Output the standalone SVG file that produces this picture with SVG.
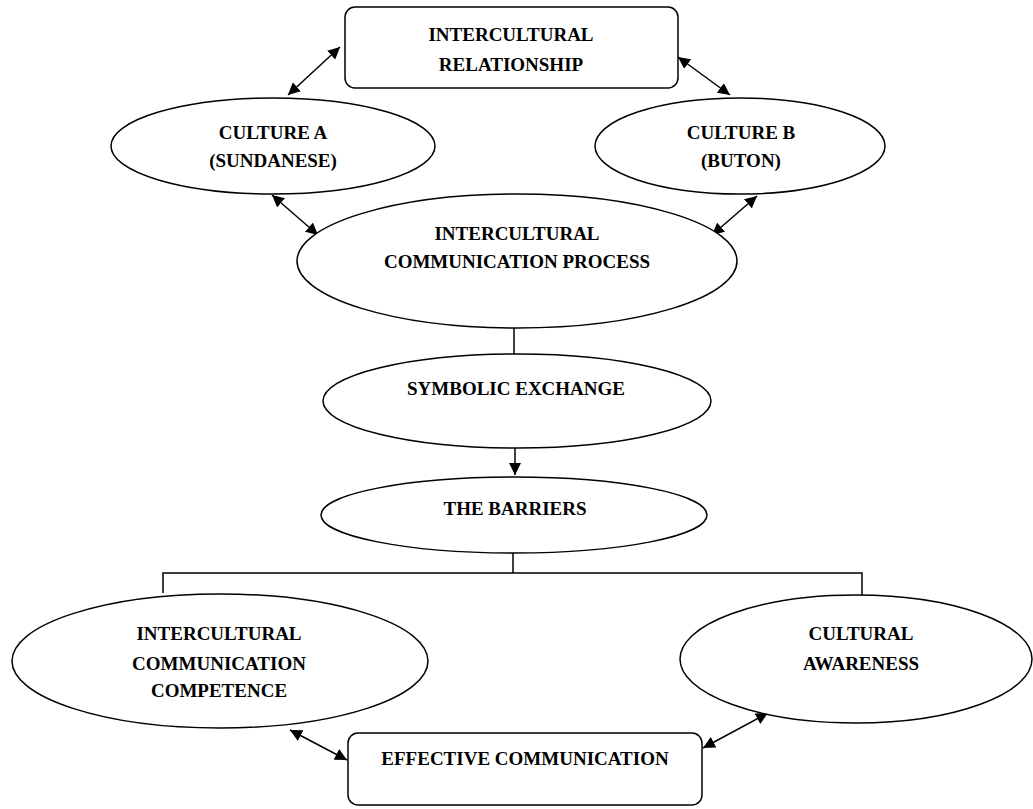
<svg xmlns="http://www.w3.org/2000/svg" width="1033" height="809" viewBox="0 0 1033 809">
<defs>
<style>
.n{fill:#fff;stroke:#000;stroke-width:1.5}
.t{font-family:"Liberation Serif","Times New Roman",serif;font-weight:bold;font-size:19px;text-anchor:middle;fill:#000}
.c{fill:none;stroke:#000;stroke-width:1.5}
</style>
<marker id="ah" viewBox="0 0 10 10" refX="10" refY="5" markerWidth="12" markerHeight="12" markerUnits="userSpaceOnUse" orient="auto-start-reverse">
<path d="M0,0 L10,5 L0,10 z" fill="#000"/>
</marker>
</defs>
<rect width="1033" height="809" fill="#fff"/>
<g id="connectors">
<line class="c" x1="340" y1="47" x2="288" y2="95" marker-start="url(#ah)" marker-end="url(#ah)"/>
<line class="c" x1="678" y1="57" x2="730" y2="95" marker-start="url(#ah)" marker-end="url(#ah)"/>
<line class="c" x1="272" y1="195" x2="318" y2="235" marker-start="url(#ah)" marker-end="url(#ah)"/>
<line class="c" x1="757" y1="196" x2="712" y2="235" marker-start="url(#ah)" marker-end="url(#ah)"/>
<line class="c" x1="514" y1="328" x2="514" y2="355"/>
<line class="c" x1="515" y1="448" x2="515" y2="475" marker-end="url(#ah)"/>
<polyline class="c" points="163,593 163,573 862,573 862,595"/>
<line class="c" x1="513" y1="547" x2="513" y2="573"/>
<line class="c" x1="290" y1="730" x2="347" y2="760" marker-start="url(#ah)" marker-end="url(#ah)"/>
<line class="c" x1="703" y1="748" x2="768" y2="713" marker-start="url(#ah)" marker-end="url(#ah)"/>
</g>
<g id="relationship">
<rect class="n" x="345" y="7" width="333" height="81" rx="10"/>
<text class="t" x="511" y="41">INTERCULTURAL</text>
<text class="t" x="511" y="71">RELATIONSHIP</text>
</g>
<g id="cultureA">
<ellipse class="n" cx="273" cy="146" rx="162" ry="48"/>
<text class="t" x="273" y="139">CULTURE A</text>
<text class="t" x="273" y="167">(SUNDANESE)</text>
</g>
<g id="cultureB">
<ellipse class="n" cx="740" cy="146" rx="145" ry="48"/>
<text class="t" x="741" y="139">CULTURE B</text>
<text class="t" x="741" y="167">(BUTON)</text>
</g>
<g id="process">
<ellipse class="n" cx="517" cy="261" rx="220" ry="67"/>
<text class="t" x="517" y="240">INTERCULTURAL</text>
<text class="t" x="517" y="268">COMMUNICATION PROCESS</text>
</g>
<g id="symbolic">
<ellipse class="n" cx="517" cy="401" rx="194" ry="47"/>
<text class="t" x="516" y="395">SYMBOLIC EXCHANGE</text>
</g>
<g id="barriers">
<ellipse class="n" cx="514" cy="515" rx="193" ry="38"/>
<text class="t" x="515" y="515">THE BARRIERS</text>
</g>
<g id="competence">
<ellipse class="n" cx="220" cy="661" rx="208" ry="67"/>
<text class="t" x="219" y="640">INTERCULTURAL</text>
<text class="t" x="219" y="670">COMMUNICATION</text>
<text class="t" x="219" y="697">COMPETENCE</text>
</g>
<g id="awareness">
<ellipse class="n" cx="856" cy="659" rx="176" ry="64"/>
<text class="t" x="861" y="640">CULTURAL</text>
<text class="t" x="861" y="670">AWARENESS</text>
</g>
<g id="effective">
<rect class="n" x="348" y="733" width="354" height="72" rx="10"/>
<text class="t" x="525" y="765">EFFECTIVE COMMUNICATION</text>
</g>
</svg>
